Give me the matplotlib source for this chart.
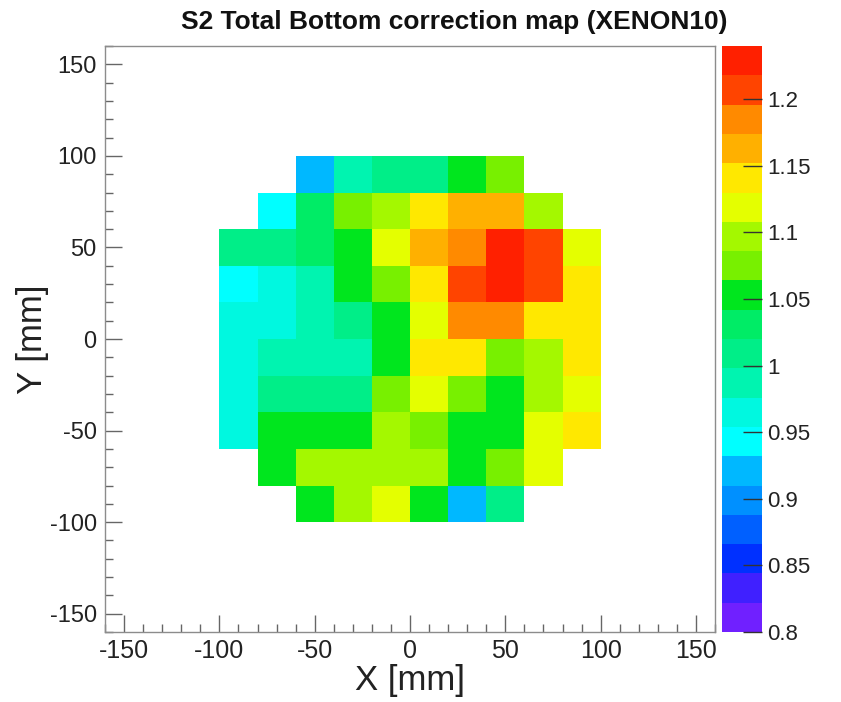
import matplotlib
matplotlib.use('Agg')
import matplotlib.pyplot as plt
import numpy as np
from matplotlib.colors import ListedColormap, BoundaryNorm
from matplotlib.ticker import MultipleLocator

plt.rcParams['font.family'] = ['Liberation Sans', 'DejaVu Sans']
plt.rcParams['axes.unicode_minus'] = False

# bin edges in mm (10 x 10 bins, 20 mm wide)
x_edges = [-100, -80, -60, -40, -20, 0, 20, 40, 60, 80, 100]
y_edges = [100, 80, 60, 40, 20, 0, -20, -40, -60, -80, -100]   # top -> bottom

nan = np.nan
# correction factor per bin, rows from top (y=80..100) to bottom (y=-100..-80)
row_0 = [nan, nan, 0.921, 0.987, 1.009, 1.009, 1.053, 1.075, nan, nan]
row_1 = [nan, 0.943, 1.031, 1.075, 1.097, 1.141, 1.163, 1.163, 1.097, nan]
row_2 = [1.009, 1.009, 1.031, 1.053, 1.119, 1.163, 1.185, 1.229, 1.207, 1.119]
row_3 = [0.943, 0.965, 0.987, 1.053, 1.075, 1.141, 1.207, 1.229, 1.207, 1.141]
row_4 = [0.965, 0.965, 0.987, 1.009, 1.053, 1.119, 1.185, 1.185, 1.141, 1.141]
row_5 = [0.965, 0.987, 0.987, 0.987, 1.053, 1.141, 1.141, 1.075, 1.097, 1.141]
row_6 = [0.965, 1.009, 1.009, 1.009, 1.075, 1.119, 1.075, 1.053, 1.097, 1.119]
row_7 = [0.965, 1.053, 1.053, 1.053, 1.097, 1.075, 1.053, 1.053, 1.119, 1.141]
row_8 = [nan, 1.053, 1.097, 1.097, 1.097, 1.097, 1.053, 1.075, 1.119, nan]
row_9 = [nan, nan, 1.053, 1.097, 1.119, 1.053, 0.921, 1.009, nan, nan]

z = np.array([row_0, row_1, row_2, row_3, row_4,
              row_5, row_6, row_7, row_8, row_9])

z_min, z_max = 0.8, 1.24
cbar_ticks = [0.8, 0.85, 0.9, 0.95, 1.0, 1.05, 1.1, 1.15, 1.2]

# ROOT-like rainbow palette, 20 contour levels
palette = ['#7020ff', '#4020ff', '#0030ff', '#0060ff', '#0090ff',
           '#00b8ff', '#00ffff', '#00f8e0', '#00f4b0', '#00ee88',
           '#00ec66', '#00e61e', '#78f000', '#a4f800', '#e4ff00',
           '#ffe800', '#ffb000', '#ff8a00', '#ff4400', '#ff2000']
cmap = ListedColormap(palette)
levels = np.linspace(z_min, z_max, len(palette) + 1)
norm = BoundaryNorm(levels, cmap.N)

fig = plt.figure(figsize=(8.41, 7.02), dpi=100)
ax = fig.add_axes([105/841, 70/702, 610/841, 586/702])
cax = fig.add_axes([722/841, 70/702, 40/841, 586/702])

mesh = ax.pcolormesh(x_edges, y_edges, z, cmap=cmap, norm=norm)

ax.set_xlim(-160, 160)
ax.set_ylim(-160, 160)
ax.xaxis.set_major_locator(MultipleLocator(50))
ax.xaxis.set_minor_locator(MultipleLocator(10))
ax.yaxis.set_major_locator(MultipleLocator(50))
ax.yaxis.set_minor_locator(MultipleLocator(10))
ax.tick_params(which='major', direction='in', length=12, width=1,
               color='0.4', labelcolor='#222222', pad=6)
ax.tick_params(axis='x', labelsize=18, pad=5)
ax.tick_params(axis='y', labelsize=17, pad=6)
ax.tick_params(which='minor', direction='in', length=5.5, width=1, color='0.4')
for sp in ax.spines.values():
    sp.set_color('0.55')
    sp.set_linewidth(1)

ax.set_xlabel('X [mm]', fontsize=25, color='#222222', labelpad=1)
ax.set_ylabel('Y [mm]', fontsize=25, color='#222222')
ax.yaxis.set_label_coords(-0.092, 0.5)

cb = fig.colorbar(mesh, cax=cax, ticks=cbar_ticks)
cb.outline.set_visible(False)
cb.ax.set_ylim(z_min, z_max)
cb.ax.yaxis.set_minor_locator(plt.NullLocator())
cb.ax.tick_params(direction='in', length=14, width=1, color='#333333',
                  labelsize=16, labelcolor='#222222', pad=4)
cb.ax.set_yticklabels(['%g' % t for t in cbar_ticks])

fig.text(454/841, 1 - 22/702, 'S2 Total Bottom correction map (XENON10)',
         ha='center', va='center', fontsize=19, fontweight='bold',
         color='#111111')

fig.savefig('out.png', dpi=100, facecolor='white')
